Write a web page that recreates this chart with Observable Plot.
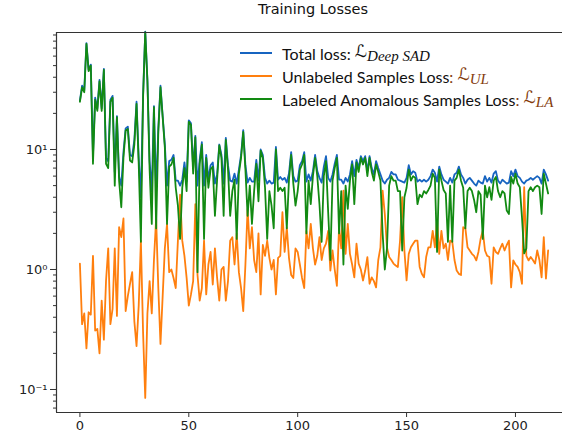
<!DOCTYPE html>
<html><head><meta charset="utf-8">
<script src="https://cdn.jsdelivr.net/npm/d3@7"></script>
<script src="https://cdn.jsdelivr.net/npm/@observablehq/plot@0.6"></script>
<style>
body{margin:0;background:#fff;}
#wrap{position:relative;width:562px;height:438px;overflow:hidden;background:#fff;}
#title{position:absolute;top:1px;left:213px;width:200px;text-align:center;font-family:"DejaVu Sans";font-size:14.5px;color:#111;}
.row{position:absolute;left:240px;height:22px;display:flex;align-items:center;white-space:nowrap;font-family:Lato;font-size:16px;color:#111;}
.sw{display:inline-block;width:32px;height:2px;margin-right:10px;}
.m{font-family:"DejaVu Sans";font-size:17px;}
.m sub{font-family:"Liberation Serif";font-style:italic;font-size:15px;vertical-align:-4px;}
</style></head><body><div id="wrap"><div id="title">Training Losses</div></div>
<script>
const totalLoss = [
25.5,34,31,77,46,51,9,27,22,38,
22,47,8.5,8,26,28,6.5,19,6,5,
9.5,15,15.5,9,8.8,12,25,8.5,4,28,
96,38,8,4.5,23,4.5,15,34,19,11,
5,8,8.2,9,5.5,5.5,5,5.6,7.8,5.4,
17.5,16.5,7,13,5,8.2,11.5,5,9,5.6,
7.4,7.8,5.2,6.2,11,9,5.2,12.5,7.4,5.5,
5.4,6.3,5.2,6.8,9,14.5,7.4,5.3,5.8,5.4,
5.4,8.2,5.5,10,9,5.8,5.2,5.5,5.2,5.3,
10.5,5.6,5.9,5.6,5.8,5.3,6.3,9.5,6,5.4,
5.5,7.4,8,9.5,5.4,6.2,5.5,6.6,9,6.6,
5.8,5.3,7.2,8.8,5.8,5.4,6.2,7.6,9,5.6,
5.6,5.2,5.8,5.4,6.2,8,6,8.2,7,8.8,
8,8.8,6.6,8.8,7,6.2,8,7,6.2,5.5,
5.2,5.6,5.8,6.5,6.2,6.2,5.6,5.5,5.4,5.3,
5.8,7.4,6.2,6.6,6.4,5.4,5.6,5.4,5.6,5.4,
5.6,6,6.8,6.4,5.4,7.2,6.2,5.6,5.4,5.2,
5.8,5.3,6.2,6.4,7.2,6.2,5.8,5.2,5.6,5.8,
5.5,5.2,5,5.5,5.3,5.2,6,5.4,5.8,5.3,
6.3,6.6,5.5,5.2,5.6,5.4,5.2,5.3,6.6,6,
6.8,6,5.8,5.4,5.2,5.5,5.6,5.8,5.6,5.8,
6,5.8,5.2,6.8,6.2,5.5];
const unlabeledLoss = [
1.12,0.35,0.43,0.22,0.44,0.42,1.3,0.31,0.32,0.2,
0.55,0.26,0.81,1.5,0.35,0.47,1.5,0.41,2.25,1.86,
2.66,0.45,0.6,0.76,0.95,0.37,0.23,0.5,1.74,0.3,
0.085,0.43,0.8,0.43,1.2,2.66,0.7,0.24,0.6,1.5,
2.4,0.95,1,0.85,0.7,1.74,4.2,1.74,1.3,0.85,
0.5,0.62,0.8,3.5,0.9,0.55,0.7,1.74,0.62,1.1,
1.4,0.75,1.5,0.85,0.55,1,1.05,0.55,0.8,1.74,
1.86,1.1,2,0.95,0.7,0.45,1.1,3.2,1.5,2.25,
1.2,0.95,2,0.62,1.6,1.3,1.74,1.25,1,1.2,
0.62,1.25,1.3,3,1.4,2.25,1.25,0.9,0.85,1.5,
1.4,1.1,0.85,0.7,2.1,1.5,2.4,1.5,1.1,1.3,
1.86,1.2,1.5,1.64,2.1,0.98,1.44,1,0.73,2.25,
1.5,4.55,1.35,2.4,1.35,1.1,0.86,1.64,1.12,1,
0.81,0.98,1.27,0.76,0.86,0.8,0.71,1.2,1.53,4.55,
2.9,1.53,1.27,1.2,1.12,1.08,1.05,1.74,4,1.44,
0.81,1.35,1.53,1.64,1.74,1.74,1.05,0.92,0.86,1.27,
1.53,1.53,2.1,1.53,2.6,1.35,2.1,1.5,1.64,1.2,
1.74,1.7,1.2,0.98,0.92,0.9,2.25,2.2,1.53,1.44,
1.35,1.3,1.19,1.4,1.8,2.1,1.44,1.3,1.27,0.76,
1.53,1.4,1.35,1.5,1.64,1.44,1.6,1.74,0.71,1.19,
1.1,1.05,0.95,0.76,4.85,1.3,1.19,1.27,1.2,1.12,
1.44,1.2,0.86,1.86,0.84,1.44];
const labeledLoss = [
25,33,30,76,45,50,7.6,26,21,37,
21,46,7.6,7,25,27,5,18.6,5.5,3.3,
8.6,14.4,14.8,8.1,7.8,11,24,7.6,1.7,27,
95,37,6.8,2.4,22.5,2.2,14,33,18.6,10.4,
2.4,7.2,7.5,8.5,4.8,3.4,1.8,4.8,7,4.5,
17,16,6.3,12.6,0.95,7.6,11,1.8,8.5,4.8,
6.8,7.2,2.8,5.6,10.8,8.5,2.8,12,6.8,2.8,
4.5,5.6,1.8,6.3,8.5,14,6.8,2.8,5,2.4,
4.5,7.6,3.7,9.8,8.5,4.8,1.8,4.5,3.4,2.2,
10,4.5,4.8,4.5,4.8,2.2,5.6,9,5.2,3.4,
4.5,6.8,7.5,9,2,5.5,3.5,6,8.5,6,
3.5,1.7,6,8,3,1.2,5.5,7,8.5,2,
4.5,1.1,5,3.2,5.5,7.5,3.5,7.8,6.5,8.5,
7.5,8.5,6,8.5,6.5,5.5,7.5,6.5,5.5,2,
1,1.5,5,6,5.5,5.5,4.5,4.5,1.44,4,
4.8,6.8,5.5,6,5.8,3.5,4.2,4,4.5,4.3,
4.6,5,6.3,5.8,1.4,6.8,5.5,4.6,4.3,1.7,
5,1.7,5.5,5.8,6.8,5.5,4.8,2.2,4.5,4.8,
4.5,3.8,3,4.5,4.2,1.8,5,4,4.85,3.8,
5.5,5.9,4.5,4,4.5,4.3,3.1,2.9,5.9,5.2,
6.3,5.2,4.85,2.7,1.36,1.5,4.5,4.85,4.5,4.85,
5,4.85,2.9,6.3,5.2,4.3];

const seriesNames = ["Total loss", "Unlabeled Samples Loss", "Labeled Anomalous Samples Loss"];
const seriesSubs = ["Deep SAD", "UL", "LA"];
const seriesColors = ["#1764c0", "#ff7f0e", "#128a12"];
const mathColors = ["#111", "#843c0c", "#843c0c"];
const xTicks = [0, 50, 100, 150, 200];
const yTicks = [0.1, 1, 10];
const yTickLabels = ["10\u207B\u00B9", "10\u2070", "10\u00B9"];
const yMinorTicks = [0.07,0.08,0.09,0.2,0.3,0.4,0.5,0.6,0.7,0.8,0.9,2,3,4,5,6,7,8,9,20,30,40,50,60,70,80,90];
const xDomain = [-10.75, 221.6];
const yDomain = [0.0643, 94.4];

const rows = vals => vals.map((v, i) => ({epoch: i, loss: v}));
const yLabelMap = new Map(yTicks.map((t, i) => [t, yTickLabels[i]]));
const ink = "#333";

const chart = Plot.plot({
  width: 562, height: 438,
  marginLeft: 56, marginRight: 0, marginTop: 32, marginBottom: 26,
  style: {fontFamily: "DejaVu Sans", fontSize: "13px", color: "#222", background: "white"},
  x: {domain: xDomain, label: null},
  y: {type: "log", domain: yDomain, label: null},
  marks: [
    Plot.axisX(xTicks, {tickSize: 5, tickPadding: 3, label: null, stroke: ink}),
    Plot.axisY(yTicks, {tickSize: 6, tickPadding: 3, label: null, stroke: ink, tickFormat: d => yLabelMap.get(d)}),
    Plot.axisY(yMinorTicks, {tickSize: 3, label: null, stroke: ink, tickFormat: () => ""}),
    Plot.line(rows(totalLoss), {x: "epoch", y: "loss", stroke: seriesColors[0], strokeWidth: 1.8}),
    Plot.line(rows(unlabeledLoss), {x: "epoch", y: "loss", stroke: seriesColors[1], strokeWidth: 1.8}),
    Plot.line(rows(labeledLoss), {x: "epoch", y: "loss", stroke: seriesColors[2], strokeWidth: 1.8}),
    Plot.ruleY([yDomain[0]], {stroke: ink, strokeWidth: 1.2}),
    Plot.ruleY([yDomain[1]], {stroke: ink, strokeWidth: 1.2}),
    Plot.ruleX([xDomain[0]], {stroke: ink, strokeWidth: 1.2})
  ]
});
const wrap = document.getElementById("wrap");
wrap.insertBefore(chart, wrap.firstChild);

seriesNames.forEach((name, i) => {
  const row = document.createElement("div");
  row.className = "row";
  row.style.top = (42 + i * 23) + "px";
  const sw = document.createElement("span");
  sw.className = "sw";
  sw.style.background = seriesColors[i];
  row.appendChild(sw);
  const t = document.createElement("span");
  t.textContent = name;
  row.appendChild(t);
  const c = document.createElement("span");
  c.textContent = ":\u00A0";
  c.style.color = mathColors[i];
  row.appendChild(c);
  const m = document.createElement("span");
  m.className = "m";
  m.style.color = mathColors[i];
  m.innerHTML = "\u2112<sub>" + seriesSubs[i] + "</sub>";
  row.appendChild(m);
  wrap.appendChild(row);
});
</script>
</body></html>
